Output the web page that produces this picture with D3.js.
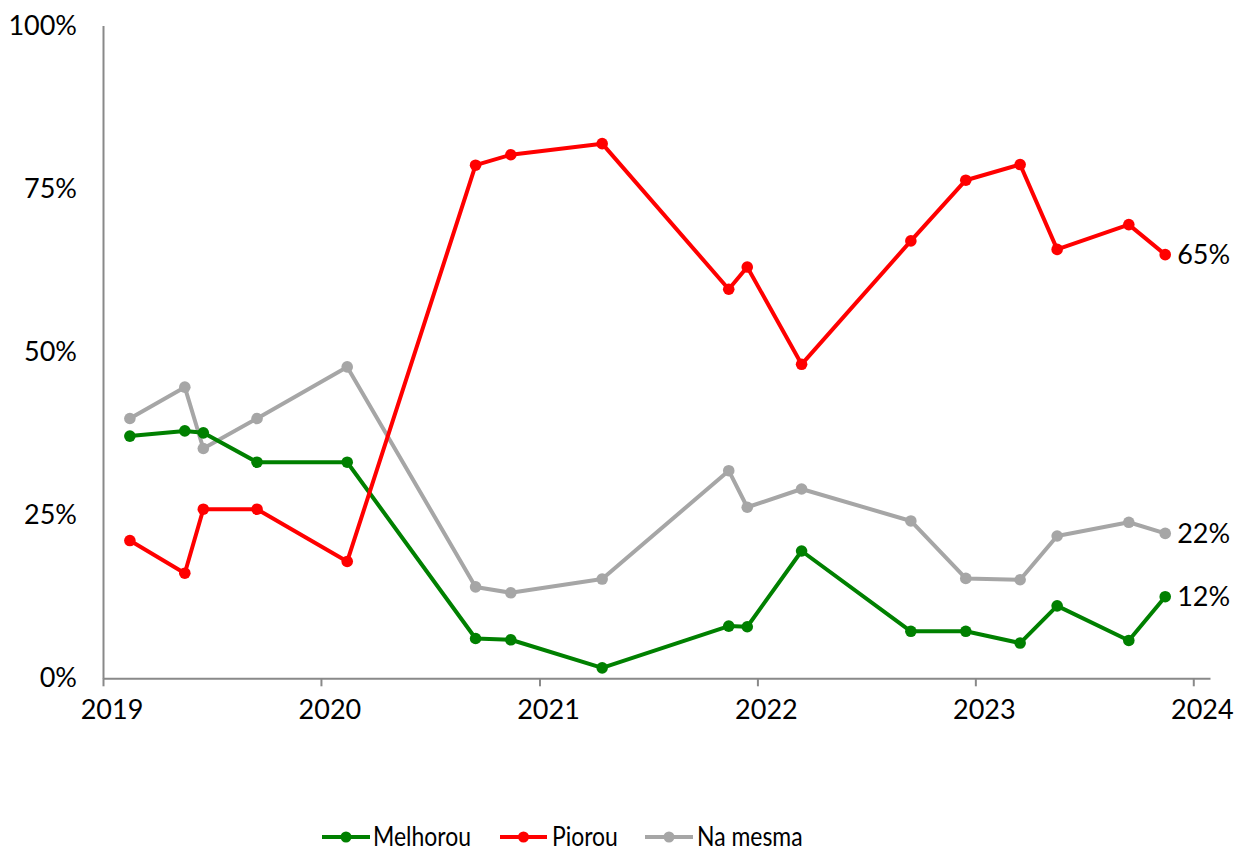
<!DOCTYPE html>
<html>
<head>
<meta charset="utf-8">
<script src="https://cdn.jsdelivr.net/npm/d3@7"></script>
<style>
  body { margin: 0; background: #fff; }
  svg { display: block; font-family: Lato, "Open Sans", sans-serif; }
</style>
</head>
<body>
<svg id="chart" width="1236" height="850"></svg>
<script>
// ---- data ----
const dates = ["2019-02-15","2019-05-18","2019-06-18","2019-09-16","2020-02-14","2020-09-16","2020-11-14","2021-04-16","2021-11-14","2021-12-15","2022-03-16","2022-09-15","2022-12-16","2023-03-17","2023-05-18","2023-09-15","2023-11-15"];
const melhorou = [37.1, 37.9, 37.6, 33.1, 33.1, 6.1, 5.9, 1.6, 8.0, 7.9, 19.5, 7.2, 7.2, 5.4, 11.1, 5.8, 12.5];
const piorou   = [21.1, 16.1, 25.9, 25.9, 17.9, 78.6, 80.2, 81.9, 59.6, 63.0, 48.1, 67.0, 76.3, 78.7, 65.7, 69.5, 64.9];
const naMesma  = [39.8, 44.6, 35.2, 39.8, 47.7, 14.0, 13.1, 15.2, 31.8, 26.2, 29.0, 24.1, 15.3, 15.1, 21.8, 23.9, 22.2];
const seriesNames = ["Melhorou", "Piorou", "Na mesma"];
const seriesColors = ["#008000", "#ff0000", "#a6a6a6"];
const endLabels = ["12%", "65%", "22%"];
const yTicks = [0, 25, 50, 75, 100];
const xTickYears = [2019, 2020, 2021, 2022, 2023, 2024];

// ---- layout ----
const svg = d3.select("#chart");
const parse = d3.timeParse("%Y-%m-%d");
const x = d3.scaleTime()
  .domain([new Date(2019, 0, 1), new Date(2024, 0, 29)])
  .range([103, 1210]);
const y = d3.scaleLinear().domain([0, 100]).range([678.3, 25.5]);

const axisColor = "#898989";
const fontSize = 27;

// x axis
const xAxis = svg.append("g").attr("transform", `translate(0,${y(0)})`)
  .call(d3.axisBottom(x)
    .tickValues(xTickYears.map(yr => new Date(yr, 0, 1)))
    .tickFormat(d3.timeFormat("%Y"))
    .tickSizeInner(8).tickSizeOuter(0).tickPadding(14));
xAxis.select(".domain").attr("stroke", axisColor).attr("stroke-width", 2);
xAxis.selectAll(".tick line").attr("stroke", axisColor).attr("stroke-width", 2);
xAxis.selectAll(".tick text").attr("fill", "#000").attr("dx", 8.5)
  .style("font-size", fontSize + "px").style("font-family", "Lato");

// y axis
const yAxis = svg.append("g").attr("transform", `translate(${x(new Date(2019,0,1))},0)`)
  .call(d3.axisLeft(y).tickValues(yTicks).tickFormat(d => d + "%")
    .tickSizeInner(0).tickSizeOuter(0).tickPadding(26));
yAxis.select(".domain").attr("stroke", axisColor).attr("stroke-width", 2);
yAxis.selectAll(".tick line").remove();
yAxis.selectAll(".tick text").attr("fill", "#000").style("font-size", fontSize + "px").style("font-family", "Lato");

// series
const allSeries = [melhorou, piorou, naMesma];
const line = d3.line().x(d => x(d.date)).y(d => y(d.v));
const order = [2, 0, 1]; // gray first, then green, then red
order.forEach(i => {
  const pts = dates.map((dt, k) => ({ date: parse(dt), v: allSeries[i][k] }));
  const g = svg.append("g");
  g.append("path").datum(pts)
    .attr("fill", "none").attr("stroke", seriesColors[i])
    .attr("stroke-width", 4).attr("stroke-linejoin", "round")
    .attr("d", line);
  g.selectAll("circle").data(pts).join("circle")
    .attr("cx", d => x(d.date)).attr("cy", d => y(d.v))
    .attr("r", 5.8).attr("fill", seriesColors[i]);
  const last = pts[pts.length - 1];
  g.append("text")
    .attr("x", x(last.date) + 12).attr("y", y(last.v))
    .attr("dy", "0.35em")
    .style("font-size", fontSize + "px").style("font-family", "Lato")
    .attr("fill", "#000")
    .text(endLabels[i]);
});

// legend
const legendY = 837;
const legendItems = [
  { x0: 322, x1: 370, tx: 373 },
  { x0: 500, x1: 547, tx: 552 },
  { x0: 645, x1: 693, tx: 697 }
];
seriesNames.forEach((name, i) => {
  const it = legendItems[i];
  const lg = svg.append("g");
  lg.append("line").attr("x1", it.x0).attr("x2", it.x1)
    .attr("y1", legendY).attr("y2", legendY)
    .attr("stroke", seriesColors[i]).attr("stroke-width", 4);
  lg.append("circle").attr("cx", (it.x0 + it.x1) / 2).attr("cy", legendY)
    .attr("r", 5.5).attr("fill", seriesColors[i]);
  lg.append("text")
    .attr("transform", `translate(${it.tx},${legendY}) scale(0.85,1)`)
    .attr("dy", "0.33em")
    .style("font-size", fontSize + "px").style("font-family", "Lato")
    .attr("fill", "#000").text(name);
});
</script>
</body>
</html>
